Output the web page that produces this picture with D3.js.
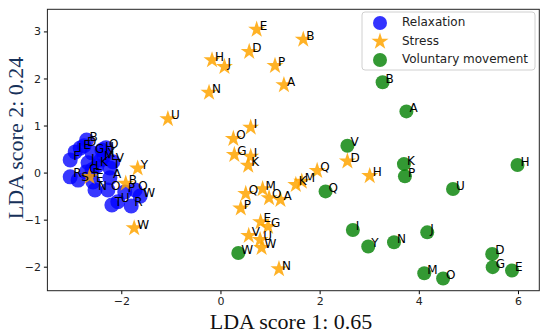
<!DOCTYPE html>
<html>
<head>
<meta charset="utf-8">
<script src="https://cdn.jsdelivr.net/npm/d3@7"></script>
<style>
  body { margin: 0; background: #fff; }
  svg { display: block; }
  .tick text { font-family: "DejaVu Sans", sans-serif; font-size: 11px; fill: #222; }
</style>
</head>
<body>
<svg id="chart" width="550" height="336"></svg>
<script>
// LDA scores: [score1, score2, subject letter]
const relaxation = [
    [-2.70, 0.69, 'B'], [-2.75, 0.57, 'D'], [-2.83, 0.52, 'E'], [-2.93, 0.44, 'I'],
    [-3.03, 0.27, 'F'], [-2.59, 0.42, 'G'], [-2.39, 0.48, 'H'], [-2.31, 0.53, 'O'],
    [-2.35, 0.35, 'X'], [-2.41, 0.27, 'M'], [-2.67, 0.21, 'J'], [-2.49, 0.14, 'K'],
    [-2.59, 0.06, 'L'], [-2.17, 0.23, 'V'], [-2.23, 0.10, 'T'], [-2.71, 0.01, 'C'],
    [-3.03, -0.09, 'R'], [-2.87, -0.16, 'S'], [-2.23, -0.11, 'A'], [-2.57, -0.20, 'E'],
    [-2.53, -0.37, 'N'], [-2.27, -0.37, 'O'], [-1.93, -0.41, 'P'], [-1.72, -0.37, 'Q'],
    [-1.62, -0.50, 'W'], [-2.07, -0.62, 'U'], [-1.80, -0.71, 'R'], [-2.19, -0.69, 'T']
];
const stress = [
    [0.73, 3.04, 'E'], [1.67, 2.83, 'B'], [0.58, 2.57, 'D'], [-0.17, 2.39, 'H'],
    [0.08, 2.25, 'J'], [1.10, 2.27, 'P'], [1.28, 1.86, 'A'], [-0.23, 1.70, 'N'],
    [-1.06, 1.14, 'U'], [0.61, 0.96, 'I'], [0.26, 0.72, 'O'], [0.28, 0.38, 'G'],
    [0.61, 0.34, 'I'], [0.56, 0.15, 'K'], [0.51, -0.45, 'Q'], [0.85, -0.35, 'M'],
    [0.41, -0.76, 'P'], [0.98, -0.54, 'O'], [1.21, -0.58, 'A'], [1.52, -0.26, 'K'],
    [1.64, -0.19, 'M'], [1.95, 0.04, 'Q'], [2.56, 0.24, 'D'], [3.01, -0.07, 'H'],
    [-1.67, 0.09, 'Y'], [-1.74, -1.18, 'W'], [-1.91, -0.23, 'B'], [-2.64, -0.09, 'F'],
    [0.81, -1.05, 'E'], [0.96, -1.15, 'G'], [0.57, -1.34, 'V'], [0.80, -1.43, 'U'],
    [0.83, -1.60, 'W'], [1.18, -2.05, 'N']
];
const voluntary = [
    [3.27, 1.92, 'B'], [3.75, 1.30, 'A'], [2.56, 0.57, 'V'], [3.70, 0.18, 'K'],
    [3.72, -0.08, 'P'], [5.99, 0.16, 'H'], [2.12, -0.40, 'Q'], [4.69, -0.35, 'U'],
    [2.67, -1.22, 'I'], [2.98, -1.57, 'Y'], [3.50, -1.48, 'N'], [4.17, -1.27, 'J'],
    [5.48, -1.73, 'D'], [5.49, -2.01, 'G'], [5.88, -2.08, 'E'], [4.11, -2.14, 'M'],
    [4.49, -2.25, 'O'], [0.36, -1.71, 'W']
];
const xTicks = [-2, 0, 2, 4, 6];
const yTicks = [-2, -1, 0, 1, 2, 3];
const classNames = ['Relaxation', 'Stress', 'Voluntary movement'];

const svg = d3.select('#chart');
const plot = {left: 47.4, right: 539.3, top: 9.3, bottom: 290.7};

const x = d3.scaleLinear().domain([-3.49, 6.43]).range([plot.left, plot.right]);
const y = d3.scaleLinear().domain([-2.51, 3.47]).range([plot.bottom, plot.top]);

const circleColor = {Relaxation: 'blue', 'Voluntary movement': 'green'};

// axes
svg.append('g')
    .attr('transform', `translate(0,${plot.bottom})`)
    .call(d3.axisBottom(x).tickValues(xTicks).tickFormat(d3.format('d')).tickSize(3.5).tickPadding(3))
    .call(g => g.select('.domain').remove());
svg.append('g')
    .attr('transform', `translate(${plot.left},0)`)
    .call(d3.axisLeft(y).tickValues(yTicks).tickFormat(d3.format('d')).tickSize(3.5).tickPadding(3))
    .call(g => g.select('.domain').remove());

svg.append('rect')
    .attr('x', plot.left).attr('y', plot.top)
    .attr('width', plot.right - plot.left).attr('height', plot.bottom - plot.top)
    .attr('fill', 'none').attr('stroke', '#222').attr('stroke-width', 1);

const star = d3.symbol().type(d3.symbolStar).size(90);

// points
svg.append('g').selectAll('circle')
    .data(relaxation)
    .enter().append('circle')
    .attr('cx', d => x(d[0]))
    .attr('cy', d => y(d[1]))
    .attr('r', 7.5)
    .attr('fill', circleColor.Relaxation)
    .attr('fill-opacity', 0.78);

svg.append('g').selectAll('path')
    .data(stress)
    .enter().append('path')
    .attr('d', star)
    .attr('transform', d => `translate(${x(d[0])},${y(d[1])})`)
    .attr('fill', 'orange')
    .attr('fill-opacity', 0.85);

svg.append('g').selectAll('circle')
    .data(voluntary)
    .enter().append('circle')
    .attr('cx', d => x(d[0]))
    .attr('cy', d => y(d[1]))
    .attr('r', 7)
    .attr('fill', circleColor['Voluntary movement'])
    .attr('fill-opacity', 0.8);

// subject letters
svg.append('g').selectAll('text')
    .data(relaxation.concat(stress, voluntary))
    .enter().append('text')
    .attr('x', d => x(d[0]) + 3)
    .attr('y', d => y(d[1]) + 0.5)
    .text(d => d[2])
    .style('font-family', 'DejaVu Sans, sans-serif')
    .style('font-size', '12px')
    .attr('fill', '#000');

// legend
const legend = svg.append('g');
legend.append('rect')
    .attr('x', 362).attr('y', 12)
    .attr('width', 173).attr('height', 58)
    .attr('rx', 3)
    .attr('fill', '#fff').attr('fill-opacity', 0.8)
    .attr('stroke', '#d0d0d0');

classNames.forEach((name, i) => {
    const cy = 22 + i * 18.5;
    if (name === 'Stress') {
        legend.append('path')
            .attr('d', star)
            .attr('transform', `translate(380,${cy + 1})`)
            .attr('fill', 'orange').attr('fill-opacity', 0.85);
    } else {
        legend.append('circle')
            .attr('cx', 380).attr('cy', cy + 1)
            .attr('r', 7)
            .attr('fill', circleColor[name]).attr('fill-opacity', 0.8);
    }
    legend.append('text')
        .attr('x', 402).attr('y', cy + 4)
        .text(name)
        .style('font-family', 'DejaVu Sans, sans-serif')
        .style('font-size', '12px')
        .attr('fill', '#222');
});

// axis titles
svg.append('text')
    .attr('x', 291).attr('y', 329)
    .attr('text-anchor', 'middle')
    .text('LDA score 1: 0.65')
    .style('font-family', 'Liberation Serif, serif')
    .style('font-size', '22px')
    .attr('fill', '#111');

svg.append('text')
    .attr('transform', 'translate(23,138) rotate(-90)')
    .attr('text-anchor', 'middle')
    .text('LDA score 2: 0.24')
    .style('font-family', 'Liberation Serif, serif')
    .style('font-size', '22px')
    .attr('fill', '#17315a');
</script>
</body>
</html>
